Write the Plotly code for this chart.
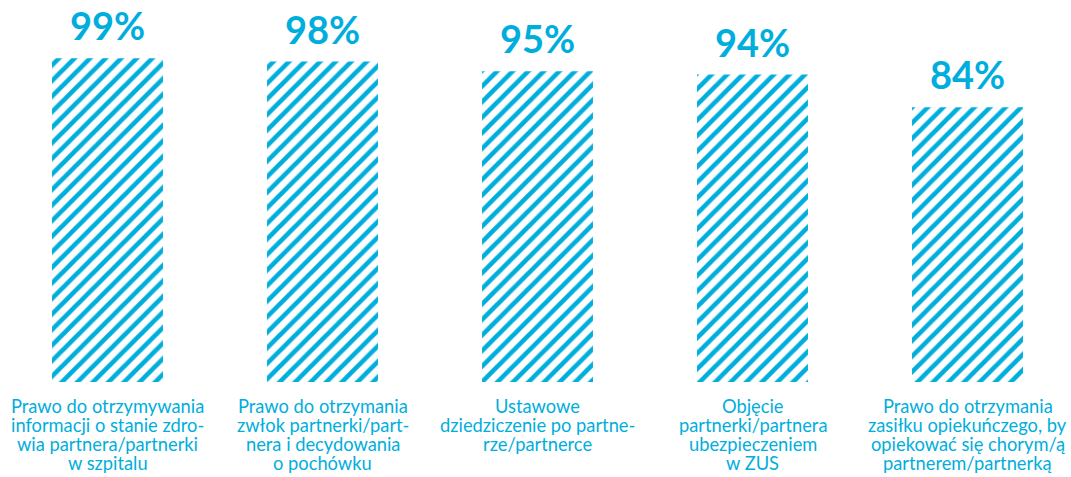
import plotly.graph_objects as go

categories = [
    "Prawo do otrzymywania<br>informacji o stanie zdro-<br>wia partnera/partnerki<br>w szpitalu",
    "Prawo do otrzymania<br>zwłok partnerki/part-<br>nera i decydowania<br>o pochówku",
    "Ustawowe<br>dziedziczenie po partne-<br>rze/partnerce",
    "Objęcie<br>partnerki/partnera<br>ubezpieczeniem<br>w ZUS",
    "Prawo do otrzymania<br>zasiłku opiekuńczego, by<br>opiekować się chorym/ą<br>partnerem/partnerką",
]
values = [99, 98, 95, 94, 84]
value_labels = ["99%", "98%", "95%", "94%", "84%"]

CYAN = "#00AEDD"
x = list(range(len(values)))

fig = go.Figure()
fig.add_trace(go.Bar(
    x=x, y=values, width=0.516,
    marker=dict(
        color=CYAN,
        line=dict(width=0),
        pattern=dict(shape="/", fgcolor=CYAN, bgcolor="white", size=11,
                     solidity=0.42, fgopacity=1, fillmode="replace"),
    ),
    hoverinfo="skip",
))

annotations = []
for xi, v, lab, cat in zip(x, values, value_labels, categories):
    annotations.append(dict(
        x=xi, y=v, xref="x", yref="y", text=lab, showarrow=False,
        yanchor="bottom", yshift=8,
        font=dict(family="Lato", size=38, color=CYAN, weight="bold"),
    ))
    for k, line in enumerate(cat.split("<br>")):
        annotations.append(dict(
            x=xi, y=0, xref="x", yref="y", text=line, showarrow=False,
            yanchor="middle", yshift=-23.5 - 19 * k, align="center",
            font=dict(family="Lato", size=18.3, color=CYAN),
        ))

fig.update_layout(
    width=1071, height=477,
    margin=dict(l=0, r=0, t=55, b=95),
    paper_bgcolor="white", plot_bgcolor="white",
    showlegend=False,
    xaxis=dict(range=[-0.5, 4.4814], visible=False, fixedrange=True),
    yaxis=dict(range=[0, 100], visible=False, fixedrange=True),
    annotations=annotations,
)

fig.write_html(
    "out.html",
    config={"displayModeBar": False, "staticPlot": True},
    post_script="document.body.style.margin='0';document.body.style.overflow='hidden';",
)
